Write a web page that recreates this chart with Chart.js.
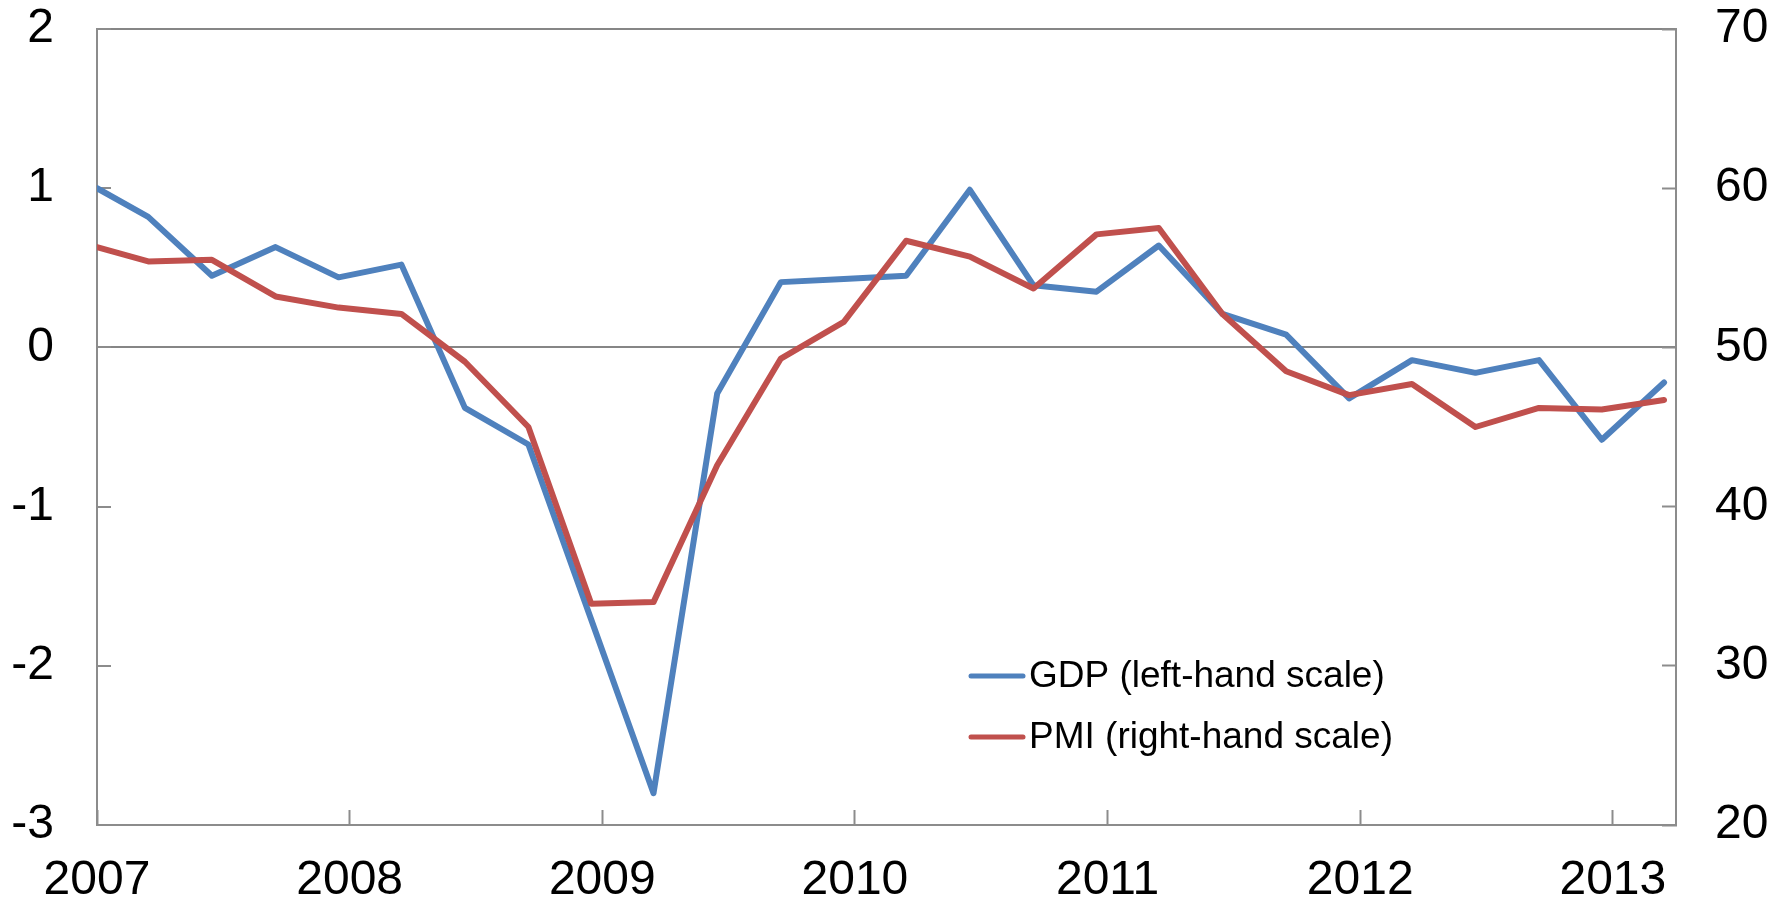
<!DOCTYPE html>
<html>
<head>
<meta charset="utf-8">
<script src="https://cdn.jsdelivr.net/npm/chart.js@4/dist/chart.umd.min.js"></script>
<style>
  html, body { margin: 0; padding: 0; background: #ffffff; }
  #wrap { width: 1789px; height: 903px; }
</style>
</head>
<body>
<div id="wrap"><canvas id="chart" width="1789" height="903"></canvas></div>
<script>
// Observation dates (quarterly, plotted mid last month of each quarter)
const dates = [
  '2007-01-01',
  '2007-03-16', '2007-06-16', '2007-09-16', '2007-12-16',
  '2008-03-16', '2008-06-16', '2008-09-16', '2008-12-16',
  '2009-03-16', '2009-06-16', '2009-09-16', '2009-12-16',
  '2010-03-16', '2010-06-16', '2010-09-16', '2010-12-16',
  '2011-03-16', '2011-06-16', '2011-09-16', '2011-12-16',
  '2012-03-16', '2012-06-16', '2012-09-16', '2012-12-16',
  '2013-03-16'
];

// GDP, quarterly growth (left-hand scale)
const gdp = [
  1.00, 0.82, 0.45, 0.63, 0.44, 0.52, -0.38, -0.61, -1.71, -2.80,
  -0.29, 0.41, 0.43, 0.45, 0.99, 0.39, 0.35, 0.64, 0.21, 0.08,
  -0.32, -0.08, -0.16, -0.08, -0.58, -0.22
];

// PMI index (right-hand scale)
const pmi = [
  56.3, 55.4, 55.5, 53.2, 52.5, 52.1, 49.1, 45.0, 33.9, 34.0,
  42.6, 49.3, 51.6, 56.7, 55.7, 53.7, 57.1, 57.5, 52.1, 48.5,
  47.0, 47.7, 45.0, 46.2, 46.1, 46.7
];

const seriesLabels = ['GDP (left-hand scale)', 'PMI (right-hand scale)'];
const seriesColors = ['#4F81BD', '#C0504D'];

const yearTicks = [2007, 2008, 2009, 2010, 2011, 2012, 2013];
const leftTicks = [-3, -2, -1, 0, 1, 2];
const rightTicks = [20, 30, 40, 50, 60, 70];

function decimalYear(iso) {
  const [y, m, d] = iso.split('-').map(Number);
  const start = Date.UTC(y, 0, 1);
  const end = Date.UTC(y + 1, 0, 1);
  return y + (Date.UTC(y, m - 1, d) - start) / (end - start);
}

const xs = dates.map(decimalYear);
const toPoints = vals => vals.map((v, i) => ({ x: xs[i], y: v }));

const FONT = '"Liberation Sans", Arial, sans-serif';
const AXIS_GREY = '#8c8c8c';
const TICK_FONT = { family: FONT, size: 48 };

// Scales keep a fixed footprint; label overhang is left to the page margins
function fixBox(width, height) {
  return s => {
    if (width !== null) s.width = width;
    if (height !== null) s.height = height;
    s.paddingTop = 0;
    s.paddingBottom = 0;
    s.paddingLeft = 0;
    s.paddingRight = 0;
  };
}

// Legend drawn inside the plot area
const innerLegend = {
  id: 'innerLegend',
  afterDatasetsDraw(chart) {
    const { ctx, chartArea } = chart;
    const x0 = chartArea.left + 874;
    const lineLen = 52;
    const rows = [chartArea.top + 647, chartArea.top + 708];
    ctx.save();
    ctx.font = '37px ' + FONT;
    ctx.textBaseline = 'middle';
    ctx.textAlign = 'left';
    chart.data.datasets.forEach((ds, i) => {
      const y = rows[i];
      ctx.strokeStyle = ds.borderColor;
      ctx.lineWidth = 5;
      ctx.lineCap = 'round';
      ctx.beginPath();
      ctx.moveTo(x0, y);
      ctx.lineTo(x0 + lineLen, y);
      ctx.stroke();
      ctx.fillStyle = '#000000';
      ctx.fillText(ds.label, x0 + lineLen + 6, y + 1);
    });
    ctx.restore();
  }
};

new Chart(document.getElementById('chart'), {
  type: 'line',
  data: {
    datasets: [
      {
        label: seriesLabels[0],
        data: toPoints(gdp),
        yAxisID: 'yLeft',
        borderColor: seriesColors[0],
        backgroundColor: seriesColors[0],
        borderWidth: 6,
        pointRadius: 0,
        tension: 0,
        borderJoinStyle: 'round',
        borderCapStyle: 'round',
        order: 1
      },
      {
        label: seriesLabels[1],
        data: toPoints(pmi),
        yAxisID: 'yRight',
        borderColor: seriesColors[1],
        backgroundColor: seriesColors[1],
        borderWidth: 6,
        pointRadius: 0,
        tension: 0,
        borderJoinStyle: 'round',
        borderCapStyle: 'round',
        order: 0
      }
    ]
  },
  options: {
    responsive: false,
    animation: false,
    layout: { padding: { top: 29, left: 0, right: 0, bottom: 0 } },
    plugins: {
      legend: { display: false },
      tooltip: { enabled: false }
    },
    scales: {
      x: {
        type: 'linear',
        position: 'bottom',
        min: 2007,
        max: 2013.25,
        afterBuildTicks: s => { s.ticks = yearTicks.map(v => ({ value: v })); },
        ticks: {
          callback: v => String(v),
          color: '#000000',
          font: TICK_FONT,
          padding: 42,
          maxRotation: 0,
          autoSkip: false
        },
        grid: {
          drawOnChartArea: false,
          tickLength: -15,
          tickColor: AXIS_GREY,
          tickWidth: 2
        },
        border: { color: AXIS_GREY, width: 2 },
        afterFit: fixBox(null, 78)
      },
      yLeft: {
        type: 'linear',
        position: 'left',
        min: -3,
        max: 2,
        afterBuildTicks: s => { s.ticks = leftTicks.map(v => ({ value: v })); },
        ticks: {
          callback: v => String(v),
          color: '#000000',
          font: TICK_FONT,
          padding: 57
        },
        grid: {
          color: c => (c.tick && (c.tick.value === 0 || c.tick.value === 2)) ? '#868686' : 'rgba(0,0,0,0)',
          lineWidth: 2,
          tickLength: -14,
          tickColor: AXIS_GREY,
          tickWidth: 2
        },
        border: { color: AXIS_GREY, width: 2 },
        afterFit: fixBox(97, null)
      },
      yRight: {
        type: 'linear',
        position: 'right',
        min: 20,
        max: 70,
        afterBuildTicks: s => { s.ticks = rightTicks.map(v => ({ value: v })); },
        ticks: {
          callback: v => String(v),
          color: '#000000',
          font: TICK_FONT,
          padding: 53
        },
        grid: {
          drawOnChartArea: false,
          tickLength: -14,
          tickColor: AXIS_GREY,
          tickWidth: 2
        },
        border: { color: AXIS_GREY, width: 2 },
        afterFit: fixBox(113, null)
      }
    }
  },
  plugins: [innerLegend]
});
</script>
</body>
</html>
